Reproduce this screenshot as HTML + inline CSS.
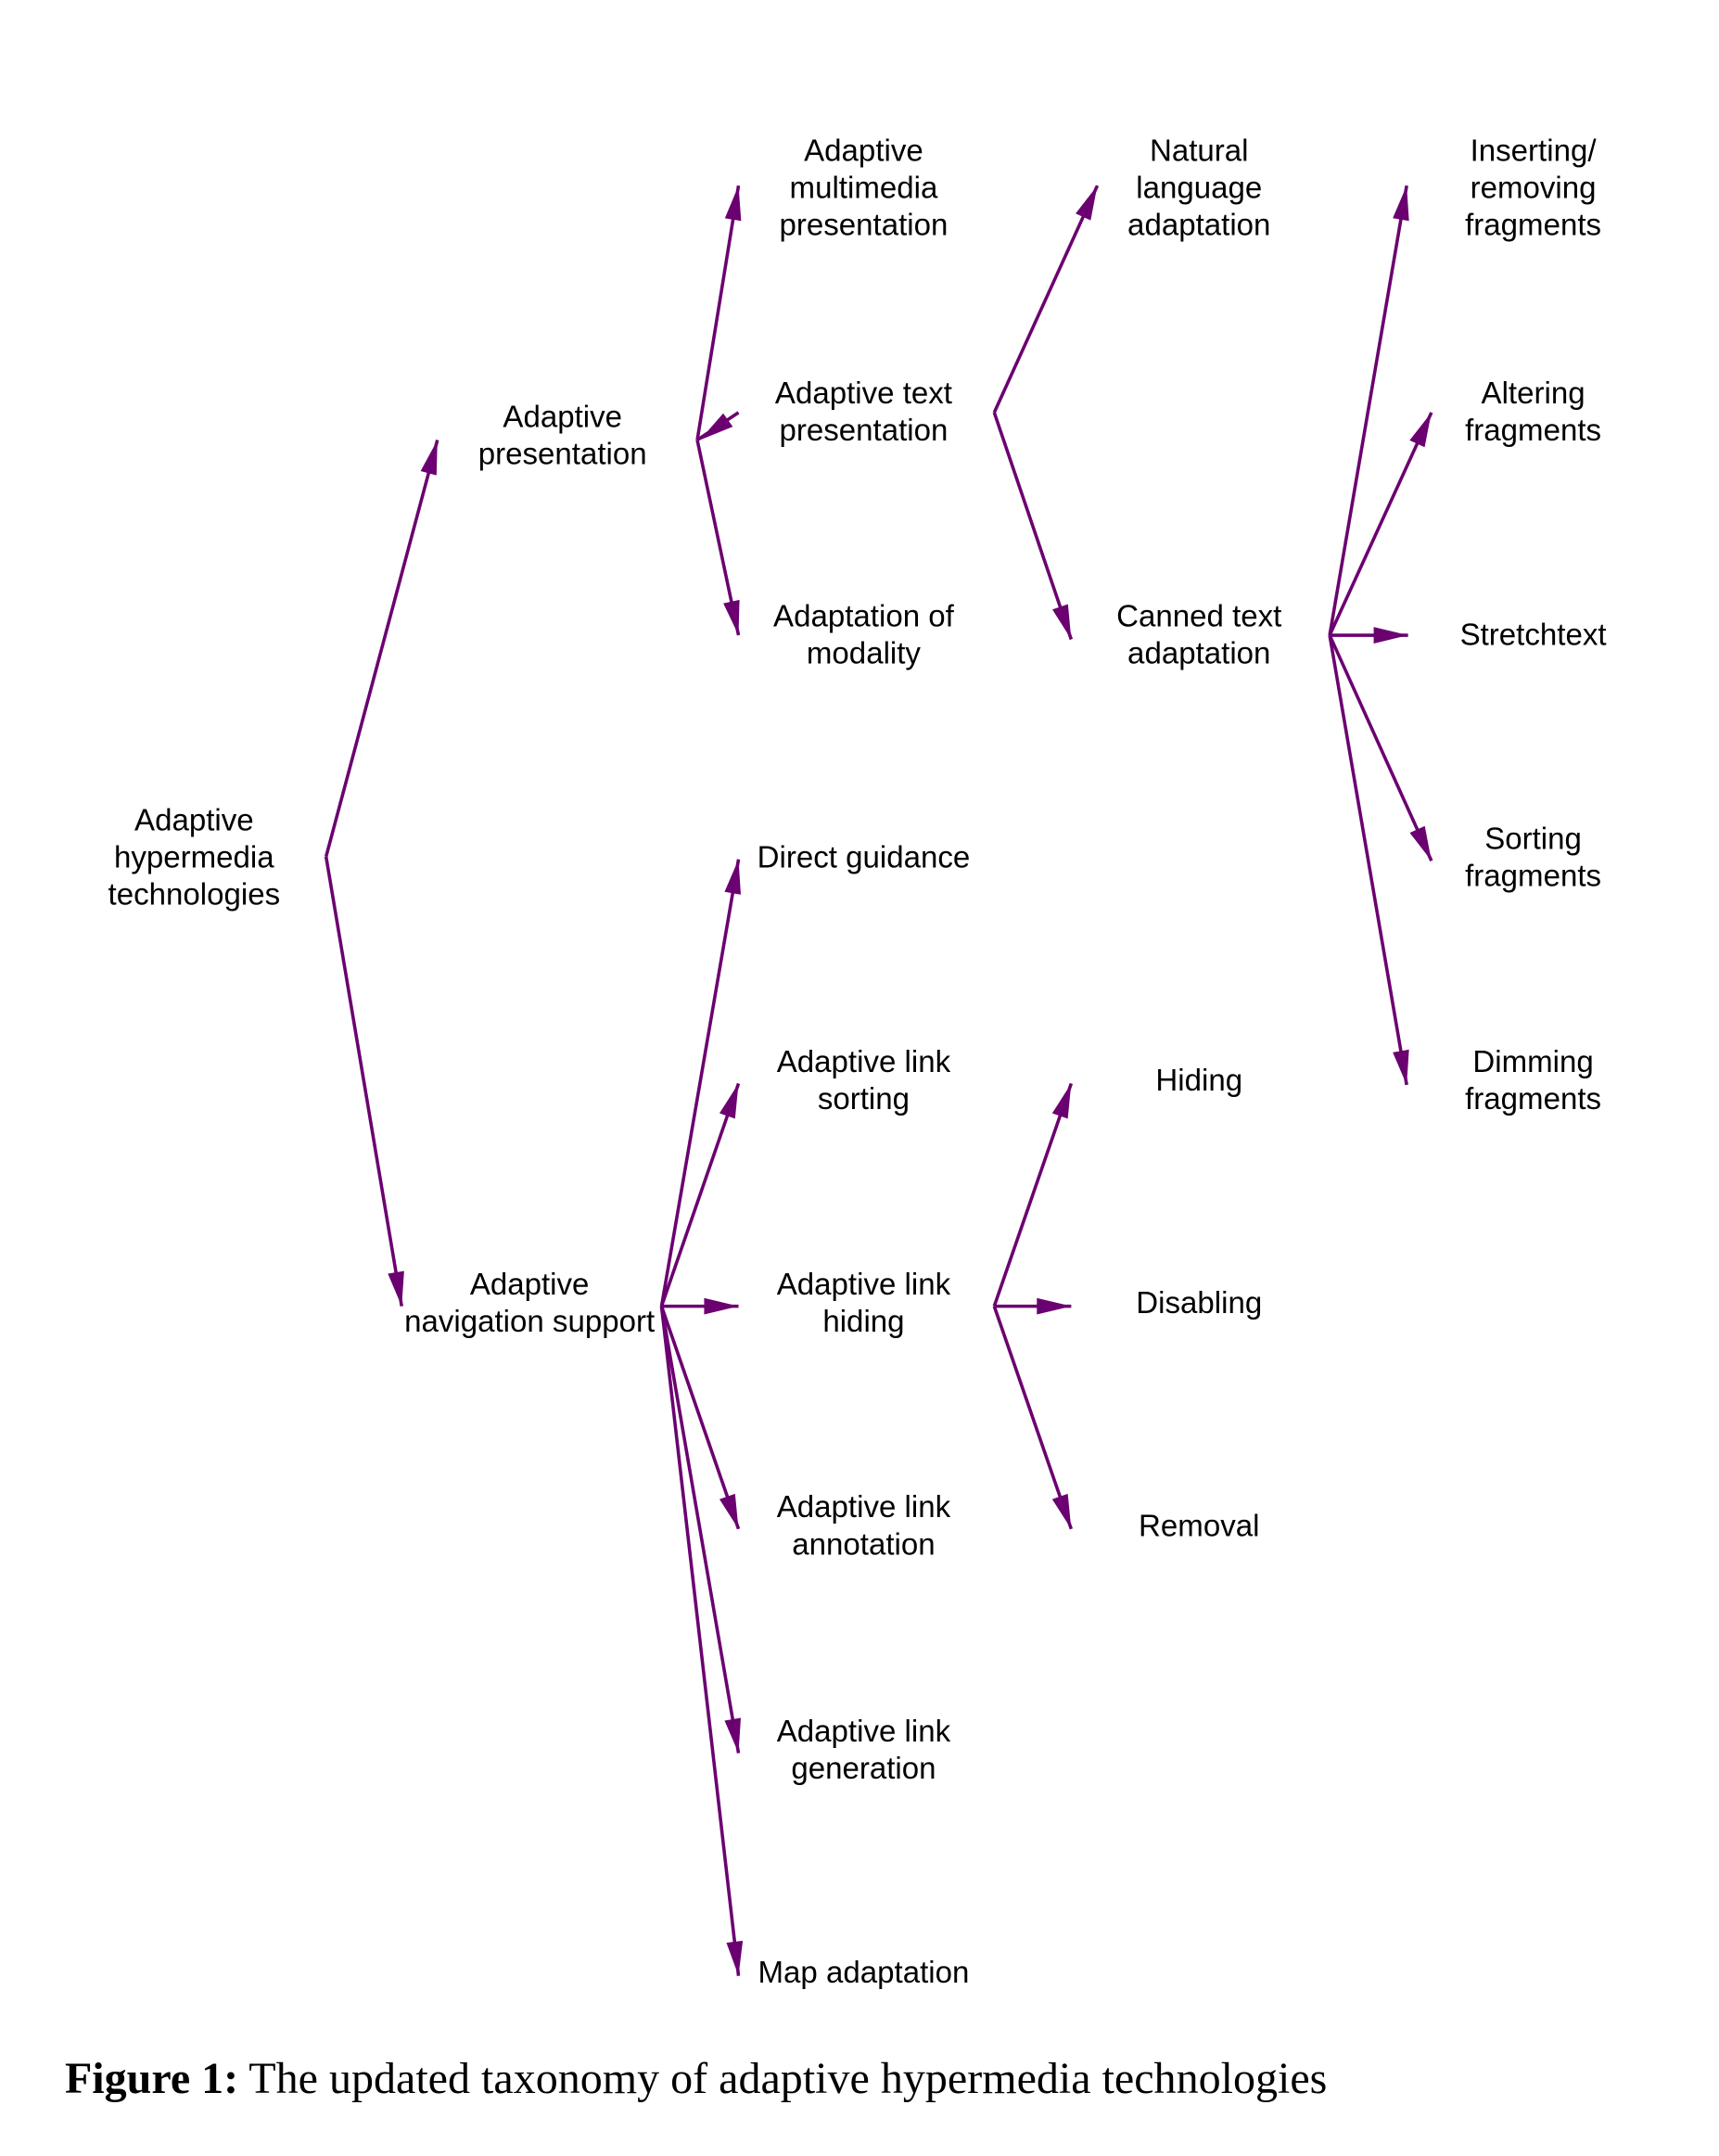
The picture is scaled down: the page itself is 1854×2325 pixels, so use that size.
<!DOCTYPE html>
<html><head><meta charset="utf-8"><style>
html,body{margin:0;padding:0;background:#fff;}
svg{display:block;}
text{font-family:"Liberation Sans",sans-serif;font-size:22.3px;fill:#000;}
</style></head><body>
<svg id="fig" width="1854" height="2325" viewBox="0 0 1250 1568" xmlns="http://www.w3.org/2000/svg">
<g id="edges"></g>
<g id="labels"></g>
<text x="47" y="1522" style="font-family:'Liberation Serif',serif;font-size:32.4px"><tspan font-weight="bold">Figure 1:</tspan> The updated taxonomy of adaptive hypermedia technologies</text>
</svg>
<script>
const nodeNames=["root","ap","ans","amp","atp","aom","dg","als","alh","ala","alg","ma","nla","cta","hid","dis","rem","irf","af","st","sf","df"];
const nodeLabels=[["Adaptive","hypermedia","technologies"],["Adaptive","presentation"],["Adaptive","navigation support"],["Adaptive","multimedia","presentation"],["Adaptive text","presentation"],["Adaptation of","modality"],["Direct guidance"],["Adaptive link","sorting"],["Adaptive link","hiding"],["Adaptive link","annotation"],["Adaptive link","generation"],["Map adaptation"],["Natural","language","adaptation"],["Canned text","adaptation"],["Hiding"],["Disabling"],["Removal"],["Inserting/","removing","fragments"],["Altering","fragments"],["Stretchtext"],["Sorting","fragments"],["Dimming","fragments"]];
const nodeX=[141,409,385,628,628,628,628,628,628,628,628,628,872,872,872,872,872,1115,1115,1115,1115,1115];
const nodeY=[624,317,948,137,300,462,624,786,948,1110,1273,1435,137,462,786,948,1110,137,300,462,624,786];
const edgeFrom=[[237,623],[237,623],[507,320],[507,320],[507,320],[723,300],[723,300],[967,462],[967,462],[967,462],[967,462],[967,462],[481,950],[481,950],[481,950],[481,950],[481,950],[481,950],[723,950],[723,950],[723,950]];
const edgeTo=[[318,320],[292,950],[537,135],[537,300],[537,462],[798,135],[779,465],[1023,135],[1041,300],[1024,462],[1041,626],[1023,789],[537,625],[537,788],[537,950],[537,1112],[537,1275],[537,1437],[779,788],[779,950],[779,1112]];
const edgeReversed=[0,0,0,1,0,0,0,0,0,0,0,0,0,0,0,0,0,0,0,0,0];
const NS="http://www.w3.org/2000/svg",C="#6b0070";
const eg=document.getElementById('edges'),lg=document.getElementById('labels');
function head(tx,ty,fx,fy){
  const dx=tx-fx,dy=ty-fy,L=Math.hypot(dx,dy),ux=dx/L,uy=dy/L,len=25,w=6;
  const bx=tx-ux*len,by=ty-uy*len,nx=-uy,ny=ux;
  const p=document.createElementNS(NS,'polygon');
  p.setAttribute('points',`${tx},${ty} ${bx+nx*w},${by+ny*w} ${bx-nx*w},${by-ny*w}`);
  p.setAttribute('fill',C);
  
  
  eg.appendChild(p);
}
edgeFrom.forEach((f,i)=>{
  const t=edgeTo[i];
  const l=document.createElementNS(NS,'line');
  l.setAttribute('x1',f[0]);l.setAttribute('y1',f[1]);l.setAttribute('x2',t[0]);l.setAttribute('y2',t[1]);
  l.setAttribute('stroke',C);l.setAttribute('stroke-width','2.4');
  
  
  eg.appendChild(l);
  if(edgeReversed[i]) head(f[0]+2,f[1],t[0],t[1]); else head(t[0],t[1],f[0],f[1]);
});
nodeNames.forEach((n,i)=>{
  const lines=nodeLabels[i],lh=27,y0=nodeY[i]-(lines.length-1)*lh/2+7;
  const t=document.createElementNS(NS,'text');
  t.setAttribute('text-anchor','middle');
  
  
  lines.forEach((s,j)=>{
    const ts=document.createElementNS(NS,'tspan');
    ts.setAttribute('x',nodeX[i]);ts.setAttribute('y',y0+j*lh);ts.textContent=s;t.appendChild(ts);
  });
  lg.appendChild(t);
});
</script>
</body></html>
